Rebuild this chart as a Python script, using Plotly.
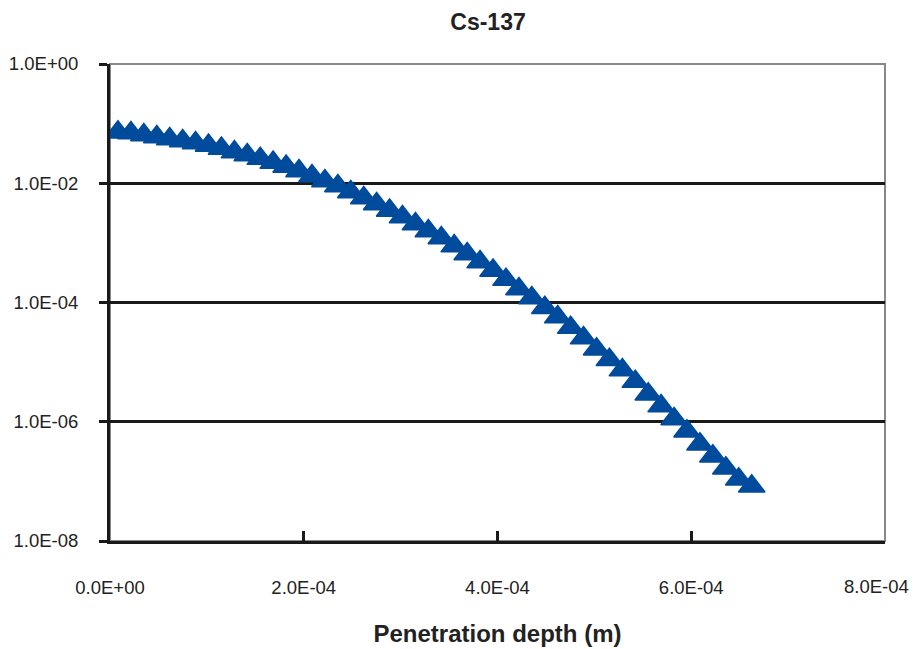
import plotly.graph_objects as go

# Penetration depth (m)
depth = [0.82e-5, 2.16e-5, 3.49e-5, 4.83e-5, 6.16e-5, 7.50e-5, 8.83e-5, 10.17e-5, 11.50e-5, 12.84e-5,
         14.17e-5, 15.51e-5, 16.84e-5, 18.18e-5, 19.51e-5, 20.85e-5, 22.18e-5, 23.52e-5, 24.85e-5, 26.19e-5,
         27.52e-5, 28.86e-5, 30.19e-5, 31.53e-5, 32.86e-5, 34.20e-5, 35.53e-5, 36.87e-5, 38.20e-5, 39.54e-5,
         40.87e-5, 42.21e-5, 43.54e-5, 44.88e-5, 46.21e-5, 47.55e-5, 48.88e-5, 50.22e-5, 51.55e-5, 52.89e-5,
         54.22e-5, 55.56e-5, 56.89e-5, 58.23e-5, 59.56e-5, 60.90e-5, 62.23e-5, 63.57e-5, 64.90e-5, 66.24e-5]

# Cs-137 concentration (relative)
conc = [7.2e-2, 6.95e-2, 6.44e-2, 5.96e-2, 5.52e-2, 5.11e-2, 4.72e-2, 4.30e-2, 3.82e-2, 3.33e-2,
        2.97e-2, 2.59e-2, 2.22e-2, 1.91e-2, 1.60e-2, 1.32e-2, 1.09e-2, 8.97e-3, 7.11e-3, 5.65e-3,
        4.48e-3, 3.48e-3, 2.71e-3, 2.07e-3, 1.58e-3, 1.21e-3, 8.83e-4, 6.49e-4, 4.76e-4, 3.43e-4,
        2.42e-4, 1.68e-4, 1.19e-4, 8.20e-5, 5.69e-5, 3.79e-5, 2.53e-5, 1.65e-5, 1.10e-5, 7.35e-6,
        4.71e-6, 2.90e-6, 1.83e-6, 1.11e-6, 6.95e-7, 4.21e-7, 2.65e-7, 1.66e-7, 1.09e-7, 8.30e-8]

x_ticks = [0, 2e-4, 4e-4, 6e-4, 8e-4]
x_ticktext = ["0.0E+00", "2.0E-04", "4.0E-04", "6.0E-04", "8.0E-04"]
y_ticks = [1e-8, 1e-6, 1e-4, 1e-2, 1e0]
y_ticktext = ["1.0E-08", "1.0E-06", "1.0E-04", "1.0E-02", "1.0E+00"]

FONT = "Liberation Sans, Arial, sans-serif"
TXT = "#222222"
TICK_SIZE = 18.5

fig = go.Figure()
fig.add_trace(go.Scatter(
    x=depth, y=conc, mode="markers",
    marker=dict(symbol="triangle-up", size=23, color="#004B9B",
                line=dict(color="#004B9B", width=1.5)),
    showlegend=False,
))

# last x tick label is drawn as an annotation nudged left so it stays inside the page
axis_ticktext = x_ticktext[:-1] + [""]

fig.update_layout(
    width=915, height=649,
    margin=dict(l=110, r=30, t=64, b=108),
    paper_bgcolor="white", plot_bgcolor="white",
    font=dict(family=FONT, color=TXT, size=18),
    title=dict(text="<b>Cs-137</b>", x=488 / 915, xref="container", xanchor="center",
               y=1 - 22 / 649, yref="container", yanchor="middle",
               font=dict(family=FONT, size=23, color=TXT)),
    xaxis=dict(
        range=[0, 8e-4], tickvals=x_ticks, ticktext=axis_ticktext,
        showgrid=False, zeroline=False, automargin=False,
        showline=True, linecolor="#1a1a1a", linewidth=3,
        ticks="inside", ticklen=10, tickwidth=3, tickcolor="#1a1a1a",
        ticklabelstandoff=28,
        tickfont=dict(size=TICK_SIZE, family=FONT, color=TXT),
        title=dict(text="<b>Penetration depth (m)</b>", standoff=28,
                   font=dict(size=24, family=FONT, color=TXT)),
    ),
    yaxis=dict(
        type="log", range=[-8, 0], tickvals=y_ticks, ticktext=y_ticktext,
        showgrid=True, gridcolor="#1a1a1a", gridwidth=3,
        zeroline=False, automargin=False,
        ticklabeloverflow="allow",
        showline=True, linecolor="#1a1a1a", linewidth=3,
        ticks="outside", ticklen=8, tickwidth=3, tickcolor="#1a1a1a",
        ticklabelstandoff=17,
        tickfont=dict(size=TICK_SIZE, family=FONT, color=TXT),
    ),
    annotations=[dict(text=x_ticktext[-1], x=x_ticks[-1], xref="x", y=0, yref="paper",
                      xanchor="center", yanchor="middle", xshift=-9, yshift=-45,
                      showarrow=False, font=dict(size=TICK_SIZE, family=FONT, color=TXT))],
    shapes=[dict(type="rect", xref="paper", yref="paper", x0=0, x1=1, y0=0, y1=1,
                 line=dict(color="#888888", width=2), layer="below")],
)

fig.write_html("out.html")
